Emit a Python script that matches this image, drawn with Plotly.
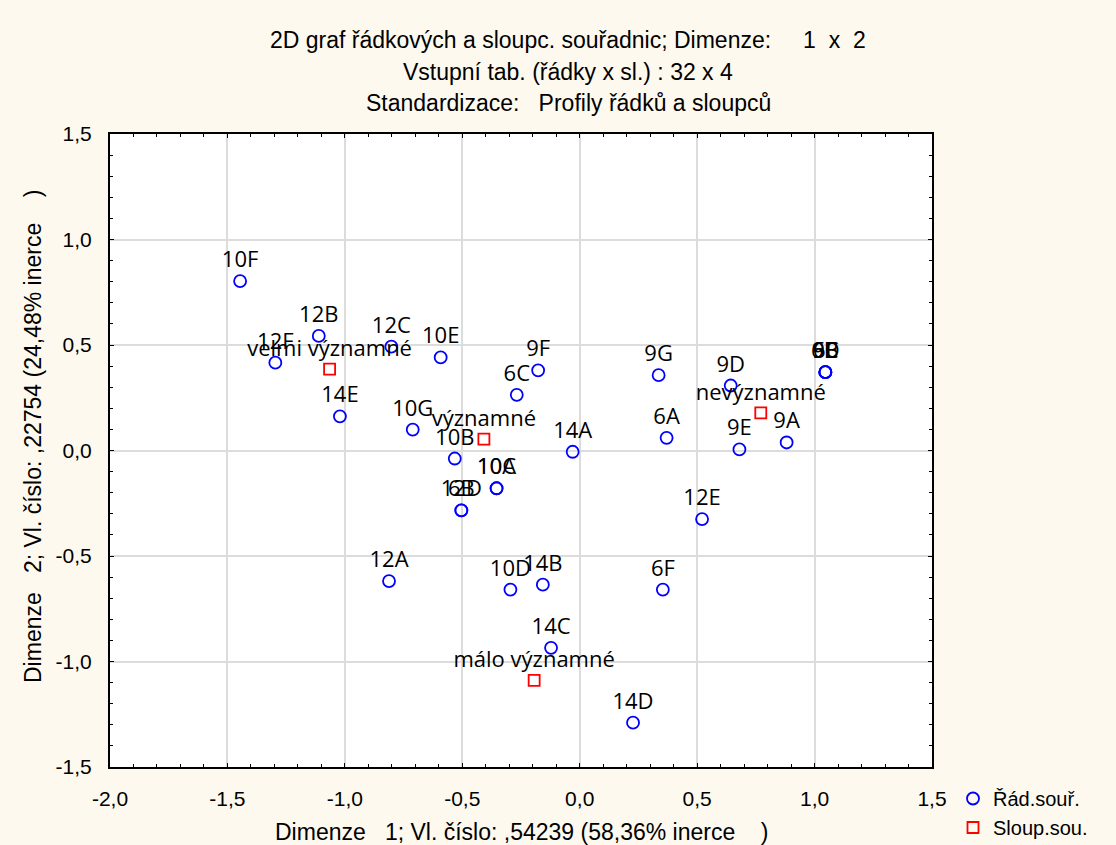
import plotly.graph_objects as go

# Row coordinates (Řád.souř.)
row_labels = ["10F", "12B", "12F", "12C", "10E", "9F", "6C", "14E", "10G", "10B",
              "14A", "10A", "10C", "12D", "6B", "10D", "14B", "12A", "9G", "9D",
              "6A", "9E", "9A", "6D", "6E", "9B", "9C", "12E", "6F", "14C", "14D"]
row_x = [-1.446, -1.111, -1.296, -0.802, -0.592, -0.177, -0.268, -1.021, -0.711, -0.532,
         -0.030, -0.354, -0.354, -0.504, -0.504, -0.295, -0.157, -0.812, 0.336, 0.643,
         0.370, 0.680, 0.881, 1.046, 1.046, 1.046, 1.046, 0.521, 0.354, -0.122, 0.227]
row_y = [0.803, 0.543, 0.416, 0.492, 0.441, 0.380, 0.264, 0.162, 0.099, -0.038,
         -0.006, -0.179, -0.179, -0.284, -0.284, -0.659, -0.636, -0.619, 0.357, 0.308,
         0.060, 0.005, 0.038, 0.371, 0.371, 0.371, 0.371, -0.325, -0.659, -0.935, -1.290]

# Column coordinates (Sloup.sou.)
col_labels = ["velmi významné", "významné", "nevýznamné", "málo významné"]
col_x = [-1.065, -0.408, 0.771, -0.194]
col_y = [0.386, 0.054, 0.178, -1.089]

title_lines = [
    "2D graf řádkových a sloupc. souřadnic; Dimenze:\u00a0\u00a0\u00a0\u00a0 1\u00a0 x\u00a0 2",
    "Vstupní tab. (řádky x sl.) : 32 x 4",
    "Standardizace:\u00a0\u00a0 Profily řádků a sloupců",
]
x_title = "Dimenze\u00a0\u00a0 1; Vl. číslo: ,54239 (58,36% inerce\u00a0\u00a0\u00a0\u00a0)"
y_title = "Dimenze\u00a0\u00a0 2; Vl. číslo: ,22754 (24,48% inerce\u00a0\u00a0\u00a0\u00a0)"

x_ticks = [-2.0, -1.5, -1.0, -0.5, 0.0, 0.5, 1.0, 1.5]
x_tick_text = ["-2,0", "-1,5", "-1,0", "-0,5", "0,0", "0,5", "1,0", "1,5"]
y_ticks = [-1.5, -1.0, -0.5, 0.0, 0.5, 1.0, 1.5]
y_tick_text = ["-1,5", "-1,0", "-0,5", "0,0", "0,5", "1,0", "1,5"]

LBL_FONT = dict(family="Open Sans", size=22, color="black")
AX_FONT = "Liberation Sans"

fig = go.Figure()
fig.add_trace(go.Scatter(
    x=row_x, y=row_y, text=row_labels, mode="markers+text",
    textposition="top center", textfont=LBL_FONT,
    marker=dict(symbol="circle-open", size=12, color="#0000ff", line=dict(width=1.8, color="#0000ff")),
    name="Řád.souř.", cliponaxis=False,
))
fig.add_trace(go.Scatter(
    x=col_x, y=col_y, text=col_labels, mode="markers+text",
    textposition="top center", textfont=LBL_FONT,
    marker=dict(symbol="square-open", size=11, color="#ff0000", line=dict(width=1.8, color="#ff0000")),
    name="Sloup.sou.", cliponaxis=False,
))

axis_common = dict(
    showline=True, linecolor="black", linewidth=2, mirror="ticks",
    showgrid=True, gridcolor="#dcdcdc", gridwidth=1.5, zeroline=False,
    ticks="inside", ticklen=4, tickcolor="black", tickwidth=1,
    minor=dict(dtick=0.1, ticks="inside", ticklen=3, tickcolor="black", tickwidth=1, showgrid=False),
    tickfont=dict(family=AX_FONT, size=21, color="black"),
)

fig.update_xaxes(range=[-2.0, 1.5], tickvals=x_ticks, ticktext=x_tick_text, ticklabelstandoff=12, **axis_common)
fig.update_yaxes(range=[-1.5, 1.5], tickvals=y_ticks, ticktext=y_tick_text, ticklabelstandoff=12, **axis_common)

annotations = []
for i, (line, ypix) in enumerate(zip(title_lines, [40, 72, 103])):
    annotations.append(dict(
        text=line, xref="paper", yref="paper", x=(568 - 110) / 822, y=(767 - ypix) / 633,
        xanchor="center", yanchor="middle", showarrow=False,
        font=dict(family=AX_FONT, size=23, color="black"),
    ))
annotations.append(dict(
    text=x_title, xref="paper", yref="paper", x=0.5, y=(767 - 832) / 633,
    xanchor="center", yanchor="middle", showarrow=False,
    font=dict(family=AX_FONT, size=23, color="black"),
))
annotations.append(dict(
    text=y_title, xref="paper", yref="paper", x=(33 - 110) / 822, y=(767 - 437) / 633,
    xanchor="center", yanchor="middle", showarrow=False, textangle=-90,
    font=dict(family=AX_FONT, size=23, color="black"),
))

fig.update_layout(
    width=1116, height=845,
    margin=dict(l=110, r=184, t=134, b=78, pad=0, autoexpand=False),
    paper_bgcolor="#fdf9ef", plot_bgcolor="white",
    showlegend=True,
    legend=dict(
        x=(953 - 110) / 822, y=(767 - 779) / 633, xanchor="left", yanchor="top",
        bgcolor="rgba(0,0,0,0)", font=dict(family=AX_FONT, size=20, color="black"),
        itemwidth=30, tracegroupgap=0,
    ),
    annotations=annotations,
)

fig.write_html("out.html")
